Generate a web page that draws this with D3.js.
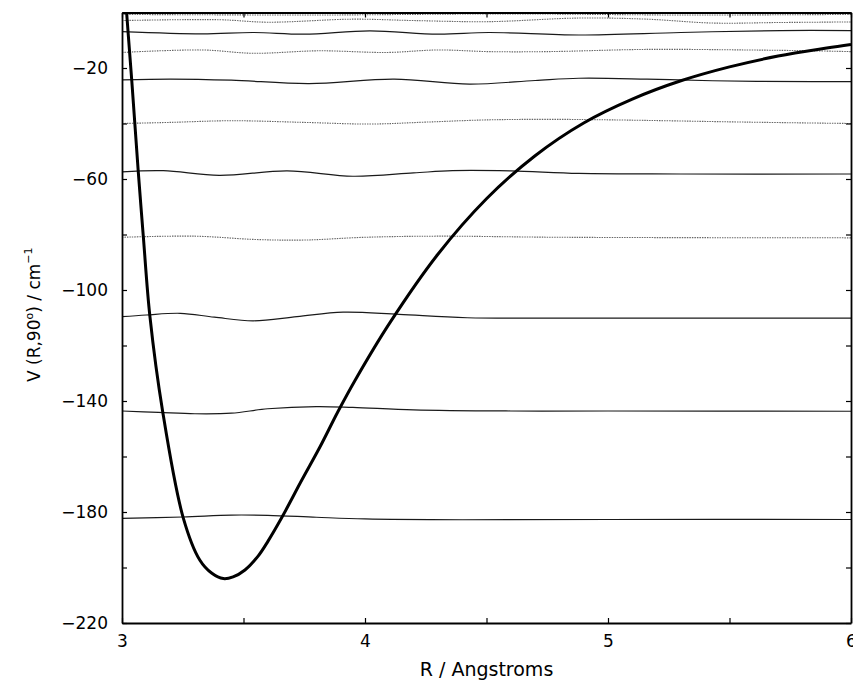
<!DOCTYPE html>
<html>
<head>
<meta charset="utf-8">
<script src="https://cdn.jsdelivr.net/npm/d3@7"></script>
<style>
  body { margin: 0; background: #fff; }
  text { font-family: "DejaVu Sans", "Liberation Sans", Arial, sans-serif; }
</style>
</head>
<body>
<div id="my_dataviz"></div>
<script>
// set the dimensions and margins of the graph
const margin = {top: 12.5, right: 2, bottom: 58, left: 122},
  width = 853 - margin.left - margin.right,
  height = 681 - margin.top - margin.bottom;

// potential curve V(R, 90 deg) [R, V]
const potential = [
  [3.0, 25], [3.019, 0], [3.04, -24.3], [3.067, -57.4], [3.088, -81], [3.115, -109.6],
  [3.167, -143.6], [3.252, -182.1], [3.32, -197.3], [3.37, -202.1], [3.417, -204],
  [3.457, -203.4], [3.506, -200.9], [3.56, -195.9], [3.601, -190.5], [3.657, -182.1],
  [3.74, -168.5], [3.815, -156.5], [3.89, -143.6], [3.96, -132.4], [4.1, -112.1],
  [4.3, -87.1], [4.5, -67.1], [4.7, -51.6], [4.9, -39.8], [5.1, -31.2], [5.3, -24.6],
  [5.5, -19.6], [5.7, -15.7], [5.9, -12.8], [6.0, -11.5]
];

// bound state levels (slightly wavy), [R, V]
const level182 = [[3,-182.3],[3.25,-181.8],[3.45,-181.1],[3.6,-181.2],[3.8,-181.9],[4.0,-182.5],[4.4,-182.8],[5.0,-182.7],[6,-182.7]];
const level144 = [[3,-143.6],[3.15,-144.1],[3.3,-144.6],[3.45,-144.4],[3.6,-142.8],[3.8,-142.0],[3.95,-142.3],[4.2,-143.2],[4.6,-143.6],[5.0,-143.6],[6,-143.7]];
const level110 = [[3,-109.6],[3.1,-109.0],[3.24,-108.4],[3.38,-109.8],[3.54,-111.1],[3.72,-109.6],[3.91,-108.0],[4.14,-108.8],[4.42,-110.0],[5,-110.1],[6,-110.1]];
const level81 = [[3,-81],[3.3,-80.6],[3.55,-81.8],[3.75,-82.0],[4.0,-81.0],[4.3,-80.6],[4.8,-81.0],[6,-81.2]];
const level57 = [[3,-57.4],[3.17,-57.0],[3.4,-58.7],[3.68,-57.1],[3.95,-59.0],[4.2,-57.8],[4.36,-57.0],[4.6,-57.1],[4.88,-58.0],[5.3,-58.2],[6,-58.2]];
const level40 = [[3,-40],[3.2,-39.6],[3.45,-39.0],[3.75,-39.6],[4.02,-40.2],[4.25,-39.5],[4.5,-38.7],[4.75,-38.5],[5.02,-38.7],[5.57,-39.5],[6,-40]];
const level24 = [[3,-24.3],[3.2,-24.0],[3.45,-24.4],[3.77,-25.6],[4.12,-24.0],[4.43,-25.8],[4.7,-24.5],[4.88,-23.7],[5.16,-24.0],[5.43,-24.6],[5.84,-24.9],[6,-24.9]];
const level14 = [[3,-14.4],[3.33,-13.5],[3.54,-14.7],[3.81,-13.8],[4.09,-14.4],[4.3,-13.5],[4.51,-14.1],[4.75,-14.1],[5.16,-13.3],[5.57,-13.5],[5.84,-13.8],[6,-14.1]];
const level7 = [[3,-6.9],[3.33,-7.7],[3.54,-7.2],[3.75,-7.8],[4.02,-6.6],[4.3,-7.8],[4.51,-7.2],[4.88,-8.1],[5.3,-7.2],[5.71,-6.5],[6,-6.5]];
const level3 = [[3,-2.9],[3.4,-2.6],[3.6,-3.5],[3.95,-2.4],[4.2,-2.9],[4.51,-3.3],[4.88,-2.0],[5.16,-2.4],[5.43,-3.8],[5.71,-3.6],[6,-3.4]];
const level1 = [[3,-0.7],[3.8,-0.9],[4.6,-0.5],[5.3,-0.9],[6,-0.7]];

const solidLevels = [level182, level144, level110, level57, level24, level7];
const dottedLevels = [level81, level40, level14, level3, level1];

// tick values
const xTicks = [3, 3.5, 4, 4.5, 5, 5.5, 6];
const xLabels = [3, 4, 5, 6];
const yTicks = d3.range(-220, 1, 20);
const yLabels = [-220, -180, -140, -100, -60, -20];

// append the svg object to the body of the page
const svg = d3.select("#my_dataviz")
.append("svg")
  .attr("width", width + margin.left + margin.right)
  .attr("height", height + margin.top + margin.bottom)
.append("g")
  .attr("transform", `translate(${margin.left},${margin.top})`);

const x = d3.scaleLinear().domain([3, 6]).range([0, width]);
const y = d3.scaleLinear().domain([-220, 0]).range([height, 0]);

svg.append("clipPath").attr("id", "clip")
  .append("rect").attr("width", width).attr("height", height);

const line = d3.line()
  .x(d => x(d[0]))
  .y(d => y(d[1]))
  .curve(d3.curveCatmullRom.alpha(0.5));

const plot = svg.append("g").attr("clip-path", "url(#clip)");

plot.selectAll(".dotted")
  .data(dottedLevels)
  .enter()
  .append("path")
    .attr("d", line)
    .attr("fill", "none")
    .attr("stroke", "#666")
    .attr("stroke-width", 1.1)
    .attr("stroke-dasharray", "1.5,1");

plot.selectAll(".solid")
  .data(solidLevels)
  .enter()
  .append("path")
    .attr("d", line)
    .attr("fill", "none")
    .attr("stroke", "#1a1a1a")
    .attr("stroke-width", 1.2);

plot.append("path")
  .datum(potential)
  .attr("d", line)
  .attr("fill", "none")
  .attr("stroke", "#000")
  .attr("stroke-width", 3);

// axes, ticks pointing inward on all four sides
const fmtY = d => yLabels.includes(d) ? d3.format("d")(d) : "";
const fmtX = d => xLabels.includes(d) ? d3.format("d")(d) : "";

svg.append("g")
  .call(d3.axisLeft(y).tickValues(yTicks).tickSizeInner(-5).tickSizeOuter(0).tickPadding(14).tickFormat(fmtY));
svg.append("g")
  .attr("transform", `translate(${width},0)`)
  .call(d3.axisRight(y).tickValues(yTicks).tickSizeInner(-5).tickSizeOuter(0).tickFormat(""));
svg.append("g")
  .attr("transform", `translate(0,${height})`)
  .call(d3.axisBottom(x).tickValues(xTicks).tickSizeInner(-5).tickSizeOuter(0).tickPadding(12).tickFormat(fmtX));
svg.append("g")
  .call(d3.axisTop(x).tickValues(xTicks).tickSizeInner(-5).tickSizeOuter(0).tickFormat(""));

svg.selectAll(".tick text")
  .attr("font-family", "DejaVu Sans, sans-serif")
  .attr("font-size", 17)
  .attr("fill", "#000");
svg.selectAll(".tick line").attr("stroke", "#000").attr("stroke-width", 1.2);
svg.selectAll(".domain").attr("stroke", "#000").attr("stroke-width", 1.8);

// axis titles
svg.append("text")
  .attr("x", width / 2)
  .attr("y", height + 53)
  .attr("text-anchor", "middle")
  .attr("font-size", 19)
  .text("R / Angstroms");

const ylab = svg.append("text")
  .attr("transform", `translate(${-82},${height / 2 - 3}) rotate(-90)`)
  .attr("text-anchor", "middle")
  .attr("font-size", 17);
ylab.append("tspan").text("V (R,90");
ylab.append("tspan").attr("font-size", 11).attr("dy", -7).text("o");
ylab.append("tspan").attr("dy", 7).text(") / cm");
ylab.append("tspan").attr("font-size", 11).attr("dy", -8).text("\u22121");
</script>
</body>
</html>
